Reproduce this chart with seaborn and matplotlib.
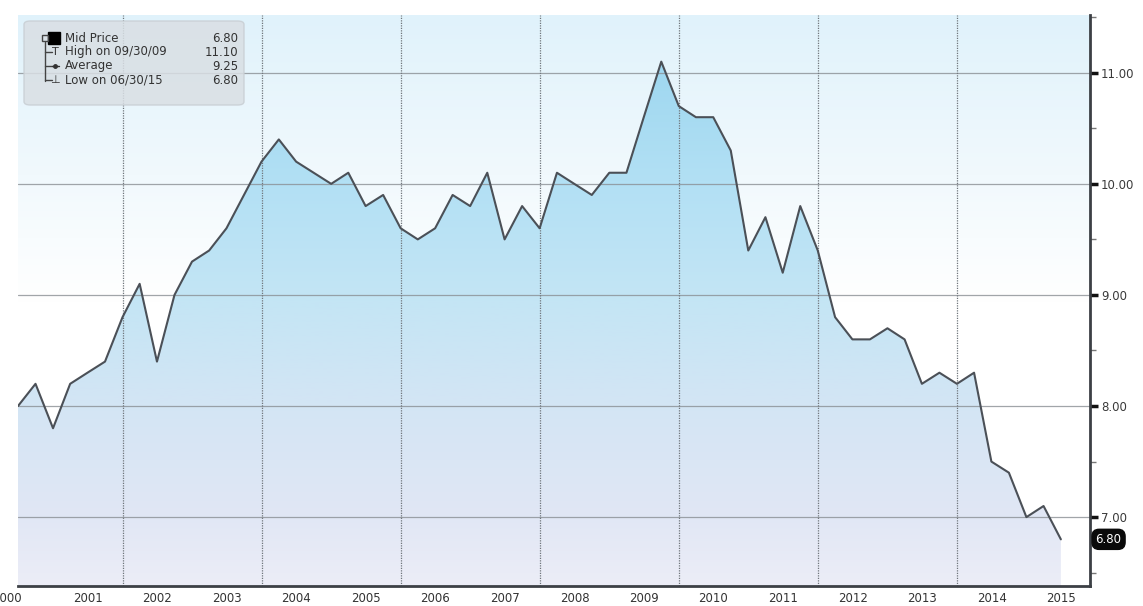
import numpy as np
import pandas as pd
import matplotlib
matplotlib.use('Agg')
import matplotlib.pyplot as plt
import matplotlib.colors as mcolors
from matplotlib.patches import FancyBboxPatch
import seaborn as sns

# quarterly mid price, 06/30/2000 .. 06/30/2015
mid_price = [8.0, 8.2, 7.8, 8.2, 8.3, 8.4, 8.8, 9.1, 8.4, 9.0,
             9.3, 9.4, 9.6, 9.9, 10.2, 10.4, 10.2, 10.1, 10.0, 10.1,
             9.8, 9.9, 9.6, 9.5, 9.6, 9.9, 9.8, 10.1, 9.5, 9.8,
             9.6, 10.1, 10.0, 9.9, 10.1, 10.1, 10.6, 11.1, 10.7, 10.6,
             10.6, 10.3, 9.4, 9.7, 9.2, 9.8, 9.4, 8.8, 8.6, 8.6,
             8.7, 8.6, 8.2, 8.3, 8.2, 8.3, 7.5, 7.4, 7.0, 7.1,
             6.8]
years = list(range(2000, 2016))
y_ticks = [7, 8, 9, 10, 11]
legend_rows = [('Mid Price', '6.80'), ('High on 09/30/09', '11.10'),
               ('Average', '9.25'), ('Low on 06/30/15', '6.80')]
last_label = '6.80'

try:
    dates = pd.date_range('2000-06-30', periods=len(mid_price), freq='QE')
except ValueError:
    dates = pd.date_range('2000-06-30', periods=len(mid_price), freq='Q')
df = pd.DataFrame({'date': dates, 'price': mid_price})

sns.set_style('white')
plt.rcParams['font.family'] = ['DejaVu Sans']

fig = plt.figure(figsize=(11.43, 6.06), dpi=100)
ax = fig.add_axes([18 / 1143, 20 / 606, 1072 / 1143, 571 / 606])

x_min = matplotlib.dates.date2num(pd.Timestamp('2000-06-30'))
x_max = matplotlib.dates.date2num(pd.Timestamp('2015-11-30'))
y_min, y_max = 6.38, 11.52

# background gradient (light blue at top fading to white)
bg_cmap = mcolors.LinearSegmentedColormap.from_list(
    'bg', [(0, '#ffffff'), (0.5, '#ffffff'), (0.72, '#f1f9fd'), (1, '#e0f2fb')])
ax.imshow(np.linspace(1, 0, 256).reshape(-1, 1), cmap=bg_cmap, aspect='auto',
          extent=[0, 1, 0, 1], transform=ax.transAxes, zorder=0, vmin=0, vmax=1)

# area fill with vertical gradient
fill = ax.fill_between(df['date'], df['price'], y_min, color='none', zorder=1)
fill_cmap = mcolors.LinearSegmentedColormap.from_list(
    'fill', [(0, '#ecedf7'), (0.12, '#e1e7f5'), (0.32, '#d3e5f4'),
             (0.51, '#c3e5f5'), (0.71, '#b2e0f4'), (0.92, '#9ed7f0'), (1, '#9ad5ef')])
img = ax.imshow(np.linspace(1, 0, 256).reshape(-1, 1), cmap=fill_cmap, aspect='auto',
                extent=[x_min, x_max, y_min, y_max], zorder=1, vmin=0, vmax=1)
img.set_clip_path(fill.get_paths()[0], transform=ax.transData)

sns.lineplot(data=df, x='date', y='price', ax=ax, color='#4b5057', linewidth=1.5, zorder=3)

ax.set_xlim(x_min, x_max)
ax.set_ylim(y_min, y_max)

# grid
for v in y_ticks:
    ax.axhline(v, color='#8a8f94', linewidth=0.9, alpha=0.8, zorder=2)
for yr in range(2002, 2016, 2):
    ax.axvline(pd.Timestamp(f'{yr}-01-01'), color='#6f757b', linewidth=0.9,
               linestyle=(0, (1, 1)), zorder=2)

# spines
for s in ['top', 'left']:
    ax.spines[s].set_visible(False)
for s in ['right', 'bottom']:
    ax.spines[s].set_color('#3c4045')
    ax.spines[s].set_linewidth(2)

# right y axis
ax.yaxis.tick_right()
ax.set_yticks(y_ticks)
ax.set_yticklabels([f'{v:.2f}' for v in y_ticks])
ax.set_yticks(np.arange(6.5, 11.6, 1.0), minor=True)
ax.tick_params(axis='y', which='major', direction='out', length=6, width=2.5,
               color='#111111', labelsize=8.5, labelcolor='#3a3a3a', pad=2)
ax.tick_params(axis='y', which='minor', direction='out', length=4, width=1, color='#777777')
ax.set_ylabel('')
ax.set_xlabel('')

# bottom x axis: year boundaries as ticks, year names centered in between
ax.set_xticks([pd.Timestamp(f'{yr}-01-01') for yr in years[1:]])
ax.set_xticklabels([])
ax.tick_params(axis='x', which='major', direction='out', length=16, width=1.2,
               color='#3c4045')
ax.tick_params(axis='x', which='minor', length=0)
for yr in years:
    dx = -8 if yr == years[0] else 0
    ax.annotate(str(yr), xy=(pd.Timestamp(f'{yr}-07-01'), 0),
                xycoords=('data', 'axes fraction'), xytext=(dx, -9),
                textcoords='offset points', ha='center', va='center',
                fontsize=8.5, color='#333333', annotation_clip=False)

# last value tag
ax.annotate(last_label, xy=(1.0, 6.8), xycoords=('axes fraction', 'data'),
            xytext=(4, 0), textcoords='offset points', ha='left', va='center',
            fontsize=8.5, color='white', annotation_clip=False,
            bbox=dict(boxstyle='round,pad=0.3,rounding_size=0.6', fc='#0a0a0a', ec='#0a0a0a'))

# legend box
box = FancyBboxPatch((6 / 1072, 1 - 90 / 571), 220 / 1072, 84 / 571,
                     boxstyle='round,pad=0,rounding_size=0.006', transform=ax.transAxes,
                     fc='#d9dfe4', ec='#c8ced3', alpha=0.85, zorder=5)
ax.add_patch(box)
row_y = [23, 37, 51, 65]
for (name, val), ry in zip(legend_rows, row_y):
    yy = 1 - ry / 571
    ax.text(47 / 1072, yy, name, transform=ax.transAxes, fontsize=8.5,
            color='#333333', va='center', ha='left', zorder=6)
    ax.text(220 / 1072, yy, val, transform=ax.transAxes, fontsize=8.5,
            color='#333333', va='center', ha='right', zorder=6)
# legend glyphs
ax.plot([36 / 1072], [1 - 23 / 571], marker='s', markersize=9, color='black',
        transform=ax.transAxes, zorder=6, clip_on=False)
ax.plot([27 / 1072], [1 - 23 / 571], marker='s', markersize=5, mfc='none', mec='#444444',
        transform=ax.transAxes, zorder=6, clip_on=False)
ax.plot([27 / 1072, 27 / 1072], [1 - 27 / 571, 1 - 66 / 571], color='#444444',
        linewidth=1, transform=ax.transAxes, zorder=6)
for ry in [37, 51, 65]:
    ax.plot([27 / 1072, 34 / 1072], [1 - ry / 571] * 2, color='#444444', linewidth=1,
            transform=ax.transAxes, zorder=6)
ax.text(37 / 1072, 1 - 37 / 571, 'T', transform=ax.transAxes, fontsize=8,
        color='#333333', va='center', ha='center', zorder=6)
ax.plot([37 / 1072], [1 - 51 / 571], marker='o', markersize=2.5, color='#333333',
        transform=ax.transAxes, zorder=6)
ax.plot([34 / 1072, 41 / 1072], [1 - 51 / 571] * 2, color='#333333', linewidth=1,
        transform=ax.transAxes, zorder=6)
ax.text(37 / 1072, 1 - 65 / 571, '\u22a5', transform=ax.transAxes, fontsize=8,
        color='#333333', va='center', ha='center', zorder=6)

fig.savefig('out.png', dpi=100)
